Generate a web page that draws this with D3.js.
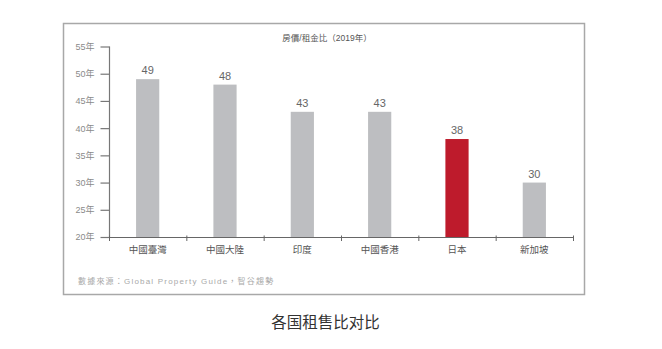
<!DOCTYPE html>
<html><head><meta charset="utf-8">
<script src="https://cdn.jsdelivr.net/npm/d3@7"></script>
<style>
html,body{margin:0;padding:0;background:#fff;}
svg{display:block;}
</style></head>
<body><svg id="c" width="662" height="349"></svg>
<script>
const categories = ["中國臺灣","中國大陸","印度","中國香港","日本","新加坡"];
const values = [49,48,43,43,38,30];
const highlight = ["日本"];
const yTicks = [20,25,30,35,40,45,50,55];
const title = "房價/租金比（2019年）";
const source = "數據來源：Global Property Guide，智谷趨勢";
const caption = "各国租售比对比";

const svg = d3.select("#c");
const font = "'Liberation Sans','Noto Sans CJK TC',sans-serif";

// frame
svg.append("rect").attr("x",63.5).attr("y",23.5).attr("width",521).attr("height",271)
  .attr("fill","none").attr("stroke","#a8a8a8").attr("stroke-width",1.5);

const x = d3.scaleBand().domain(categories).range([109,573]);
const y = d3.scaleLinear().domain([20,55]).range([237,46.5]);

// y axis
const ya = svg.append("g").attr("transform","translate(109.5,0)")
  .call(d3.axisLeft(y).tickValues(yTicks).tickSize(9).tickFormat(d=>d+"年").tickPadding(6));
ya.select(".domain").attr("stroke","#777").attr("stroke-width",1.2).attr("d","M0,"+y(55)+"V"+y(20));
ya.selectAll(".tick line").attr("stroke","#777").attr("stroke-width",1.2);
ya.selectAll(".tick text").attr("fill","#8a8a8a").style("font-family",font).style("font-size","9px");

// bars
const bw = x.step()*0.3;
svg.selectAll("rect.bar").data(categories).enter().append("rect").attr("class","bar")
  .attr("x",d=>x(d)+x.step()/2-bw/2).attr("width",bw)
  .attr("y",(d,i)=>y(values[i])).attr("height",(d,i)=>y(20)-y(values[i]))
  .attr("fill",d=>highlight.includes(d)?"#be1b2c":"#bdbec1");

svg.selectAll("text.val").data(categories).enter().append("text").attr("class","val")
  .attr("x",d=>x(d)+x.step()/2).attr("y",(d,i)=>y(values[i])-5)
  .attr("text-anchor","middle").attr("fill","#666").style("font-family",font).style("font-size","11px")
  .text((d,i)=>values[i]);

// x axis
const xa = svg.append("g").attr("transform","translate(0,237.5)");
xa.append("path").attr("d","M109,0H574").attr("stroke","#666").attr("stroke-width",1.2);
const tickPos = categories.map(d=>x(d)).concat([x.range()[1]]);
xa.selectAll("line.t").data(tickPos).enter().append("line")
  .attr("x1",d=>d+0.5).attr("x2",d=>d+0.5).attr("y1",-2).attr("y2",3.5)
  .attr("stroke","#666").attr("stroke-width",1);
xa.selectAll("text.lab").data(categories).enter().append("text")
  .attr("x",d=>x(d)+x.step()/2).attr("y",15.5).attr("text-anchor","middle")
  .attr("fill","#555").style("font-family",font).style("font-size","9.5px").text(d=>d);

// title
svg.append("text").attr("x",327).attr("y",40.5).attr("text-anchor","middle")
  .attr("fill","#555").style("font-family",font).style("font-size","8.5px").text(title);

// source
svg.append("text").attr("x",78).attr("y",284).attr("fill","#a9a9a9")
  .style("font-family",font).style("font-size","8px").style("letter-spacing","1.2px").text(source);

// caption
svg.append("text").attr("x",325.5).attr("y",328).attr("text-anchor","middle").attr("fill","#333")
  .style("font-family","'Noto Sans CJK SC',sans-serif").style("font-size","15.5px").text(caption);
</script></body></html>
